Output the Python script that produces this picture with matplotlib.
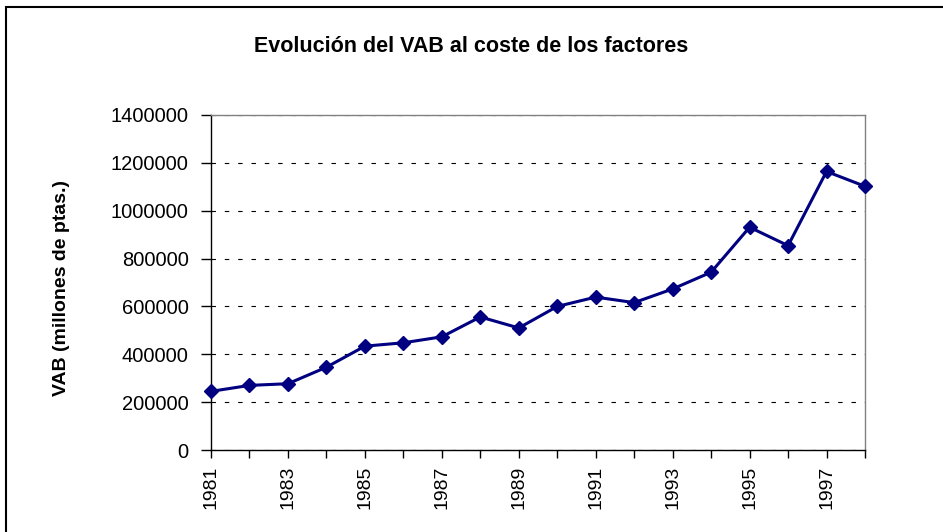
import matplotlib.pyplot as plt
from matplotlib.patches import Rectangle

# VAB al coste de los factores (millones de ptas.)
years = list(range(1981, 1999))
vab = [245000, 270000, 277000, 346000, 434000, 448000, 473000, 556000, 510000,
       600000, 639000, 616000, 673000, 743000, 931000, 854000, 1164000, 1102000]
y_ticks = [0, 200000, 400000, 600000, 800000, 1000000, 1200000, 1400000]

plt.rcParams['font.family'] = ['Liberation Sans', 'DejaVu Sans']

fig = plt.figure(figsize=(9.43, 5.32), dpi=100)
ax = fig.add_axes([211 / 943, 1 - 450 / 532, 654 / 943, 335 / 532])

ax.plot(years, vab, color="#000080", linewidth=2.2, marker='D', markersize=7.5,
        markerfacecolor="#000080", markeredgecolor="#000080", clip_on=False, zorder=3)

ax.set_xlim(1981, 1998)
ax.set_ylim(0, 1400000)
ax.set_yticks(y_ticks)
ax.set_yticklabels([str(v) for v in y_ticks])
ax.set_xticks(years)
ax.set_xticklabels([str(y) if y % 2 == 1 else "" for y in years], rotation=90)

ax.tick_params(axis='y', direction='out', length=7, width=1, pad=9, labelsize=14.5)
ax.tick_params(axis='x', direction='out', length=6, width=1, pad=5, labelsize=14)

ax.grid(axis='y', color='black', linestyle=(0, (4, 8)), linewidth=0.8)
ax.set_axisbelow(True)

for side in ['left', 'bottom']:
    ax.spines[side].set_color('black')
    ax.spines[side].set_linewidth(1)
for side in ['top', 'right']:
    ax.spines[side].set_color('#808080')
    ax.spines[side].set_linewidth(1)

fig.text(62 / 943, 1 - 288 / 532, "VAB (millones de ptas.)", rotation=90,
         ha='center', va='center', fontsize=14, fontweight='bold')

fig.text(0.5, 1 - 46 / 532, "Evolución del VAB al coste de los factores",
         ha='center', va='center', fontsize=15.5, fontweight='bold')

# marco exterior del gráfico
fig.patches.append(Rectangle((6 / 943, -0.1), 1.0, 1.1 - 7 / 532, transform=fig.transFigure,
                             fill=False, edgecolor='black', linewidth=1.5))

fig.savefig("out.png", dpi=100)
